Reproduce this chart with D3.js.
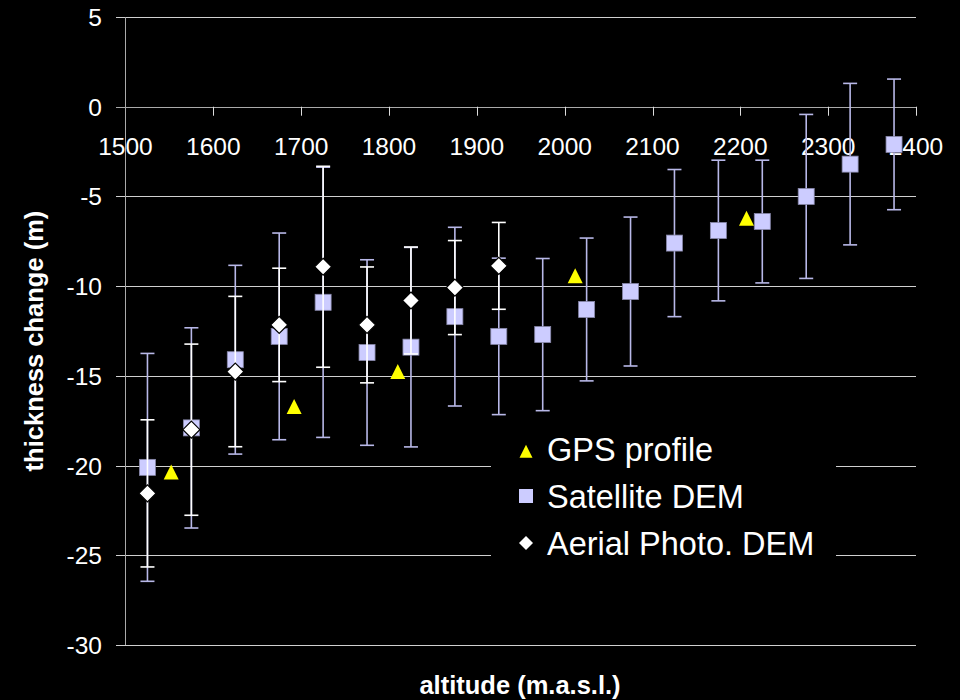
<!DOCTYPE html>
<html>
<head>
<meta charset="utf-8">
<script src="https://cdn.jsdelivr.net/npm/d3@7"></script>
<style>
  body{margin:0;background:#000;}
  svg{display:block;font-family:"Liberation Sans",Arial,Helvetica,sans-serif;}
</style>
</head>
<body>
<script>
// thickness change vs altitude
const w = 960;
const h = 700;

const satAlt = [1525,1575,1625,1675,1725,1775,1825,1875,1925,1975,2025,2075,2125,2175,2225,2275,2325,2375];
const satVal = [-20.1,-17.9,-14.1,-12.8,-10.9,-13.7,-13.4,-11.7,-12.8,-12.7,-11.3,-10.3,-7.6,-6.9,-6.4,-5.0,-3.2,-2.1];
const satErr = [6.35,5.58,5.26,5.76,7.53,5.17,5.56,4.98,4.36,4.24,3.98,4.15,4.1,3.92,3.42,4.57,4.5,3.64];

const aerAlt = [1525,1575,1625,1675,1725,1775,1825,1875,1925];
const aerVal = [-21.55,-18.0,-14.76,-12.16,-8.92,-12.16,-10.8,-10.08,-8.87];
const aerErr = [4.1,4.77,4.19,3.16,5.6,3.23,2.98,2.62,2.42];

const gpsAlt = [1552,1692,1810,2012,2207];
const gpsVal = [-20.4,-16.75,-14.8,-9.46,-6.26];

const xTicks = [1500,1600,1700,1800,1900,2000,2100,2200,2300,2400];
const yTicks = [-30,-25,-20,-15,-10,-5,0,5];

const legendItems = ['GPS profile','Satellite DEM','Aerial Photo. DEM'];

const x = d3.scaleLinear().domain([1500,2400]).range([125.5,916]);
const y = d3.scaleLinear().domain([-30,5]).range([645,17]);

const svg = d3.select('body').append('svg')
  .attr('width',w).attr('height',h)
  .style('background-color','#000');

//---------grid + axes-------------
svg.append('g').selectAll('line')
  .data(yTicks)
  .enter().append('line')
  .attr('x1',116).attr('x2',x(2400))
  .attr('y1',d=>Math.round(y(d))+0.5).attr('y2',d=>Math.round(y(d))+0.5)
  .style('stroke',d=>d==0?'#aaaaaa':'#d0d0d0')
  .style('stroke-width',1);

svg.append('line')
  .attr('x1',125.5).attr('x2',125.5)
  .attr('y1',y(5)).attr('y2',y(-30))
  .style('stroke','#aaaaaa');

svg.append('g').selectAll('line')
  .data(xTicks.slice(1))
  .enter().append('line')
  .attr('x1',d=>Math.round(x(d))+0.5).attr('x2',d=>Math.round(x(d))+0.5)
  .attr('y1',y(0)).attr('y2',y(0)+9)
  .style('stroke','#dddddd');

svg.append('g').selectAll('text')
  .data(yTicks)
  .enter().append('text')
  .attr('x',102).attr('y',d=>y(d)+9)
  .attr('text-anchor','end')
  .style('font-size','24.5px').style('fill','#fff')
  .text(d=>d);

svg.append('g').selectAll('text')
  .data(xTicks)
  .enter().append('text')
  .attr('x',d=>x(d)).attr('y',155)
  .attr('text-anchor','middle')
  .style('font-size','24.5px').style('fill','#fff')
  .text(d=>d);

svg.append('text')
  .attr('transform','translate(43,341) rotate(-90)')
  .attr('text-anchor','middle')
  .style('font-size','25.5px').style('font-weight','bold').style('fill','#fff')
  .text('thickness change (m)');

svg.append('text')
  .attr('x',520).attr('y',694)
  .attr('text-anchor','middle')
  .style('font-size','25.5px').style('font-weight','bold').style('fill','#fff')
  .text('altitude (m.a.s.l.)');

//--------error bars------------
function errBars(alt,val,err,col){
  var g = svg.append('g');
  alt.forEach((a,i)=>{
    var cx = x(a);
    var top = y(val[i]+err[i]), bot = y(val[i]-err[i]);
    g.append('line').attr('x1',cx).attr('x2',cx).attr('y1',top).attr('y2',bot)
      .style('stroke',col).style('stroke-width',1.6);
    [top,bot].forEach(yy=>{
      g.append('line').attr('x1',cx-7).attr('x2',cx+7).attr('y1',yy).attr('y2',yy)
        .style('stroke',col).style('stroke-width',1.6);
    });
  });
}

function tri(cx,cy,s){
  return [[cx,cy-s*0.55],[cx+s/2,cy+s*0.45],[cx-s/2,cy+s*0.45]].map(p=>p.join(',')).join(' ');
}
function diamond(cx,cy,s){
  return [[cx,cy-s],[cx+s,cy],[cx,cy+s],[cx-s,cy]].map(p=>p.join(',')).join(' ');
}

// GPS triangles
svg.append('g').selectAll('polygon')
  .data(gpsAlt)
  .enter().append('polygon')
  .attr('points',(d,i)=>tri(x(d),y(gpsVal[i]),15))
  .style('fill','#ffff00');

errBars(satAlt,satVal,satErr,'#b8b8e8');
svg.append('g').selectAll('rect')
  .data(satAlt)
  .enter().append('rect')
  .attr('x',d=>x(d)-8).attr('y',(d,i)=>y(satVal[i])-8)
  .attr('width',16).attr('height',16)
  .style('fill','#ccccff').style('stroke','#8888aa').style('stroke-width',0.8);

errBars(aerAlt,aerVal,aerErr,'#ffffff');
svg.append('g').selectAll('polygon')
  .data(aerAlt)
  .enter().append('polygon')
  .attr('points',(d,i)=>diamond(x(d),y(aerVal[i]),8.5))
  .style('fill','#fff').style('stroke','#000').style('stroke-width',1.2);

//--------legend-----------
const lg = svg.append('g');
lg.append('rect').attr('x',491).attr('y',425).attr('width',345).attr('height',160).style('fill','#000');
lg.append('polygon').attr('points',tri(526,452,13)).style('fill','#ffff00');
lg.append('rect').attr('x',519).attr('y',489).attr('width',14).attr('height',14).style('fill','#ccccff');
lg.append('polygon').attr('points',diamond(526,543,7)).style('fill','#fff');
lg.selectAll('text')
  .data(legendItems)
  .enter().append('text')
  .attr('x',547).attr('y',(d,i)=>461+i*46.8)
  .style('font-size','32.5px').style('fill','#fff')
  .text(d=>d);
</script>
</body>
</html>
